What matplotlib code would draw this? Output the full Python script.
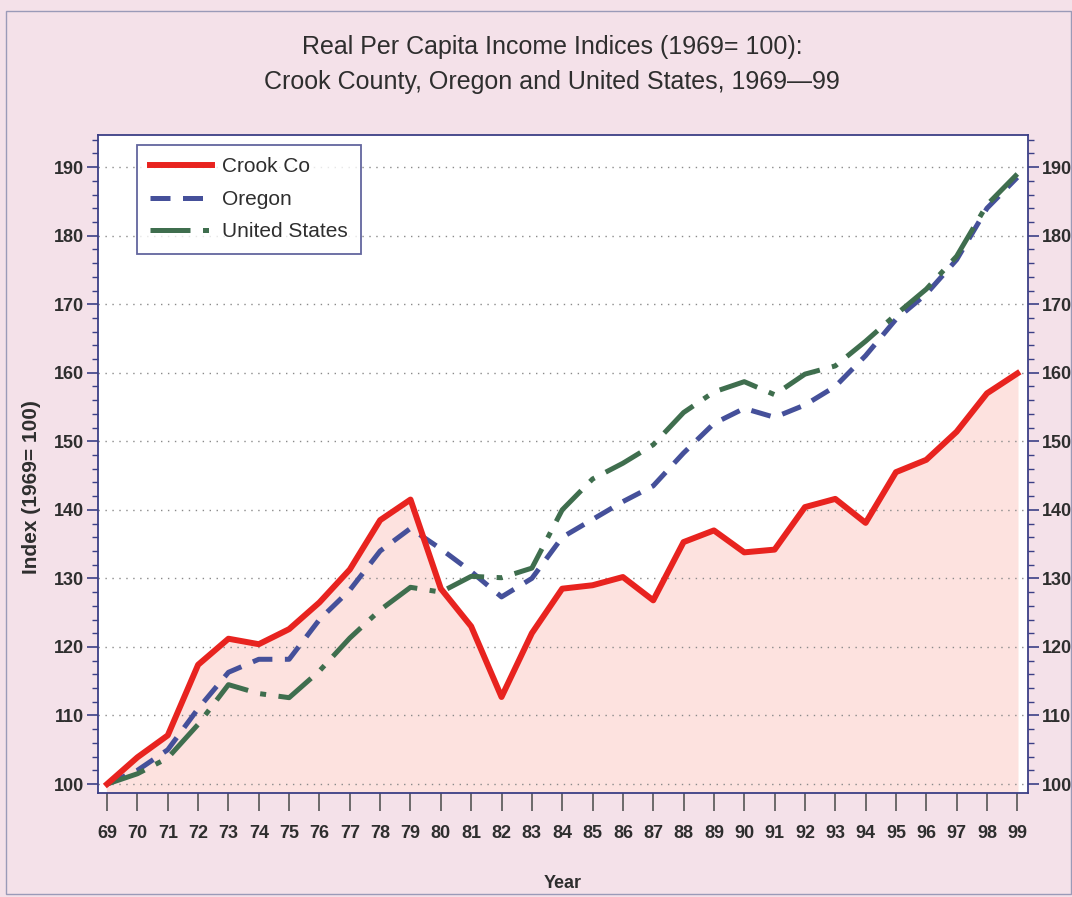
import matplotlib
matplotlib.use("Agg")
import matplotlib.pyplot as plt
from matplotlib.ticker import MultipleLocator
from matplotlib.patches import Rectangle

# Data (index, 1969 = 100)
years = list(range(69, 100))
crook = [100, 103.9, 107.1, 117.4, 121.2, 120.4, 122.6, 126.5, 131.3, 138.5,
         141.5, 128.5, 123.0, 112.7, 122.0, 128.5, 129.0, 130.2, 126.8, 135.3,
         137.0, 133.8, 134.2, 140.4, 141.6, 138.1, 145.5, 147.3, 151.4, 157.0,
         159.9]
oregon = [100, 102.0, 105.0, 111.0, 116.3, 118.2, 118.2, 124.0, 128.3, 134.0,
          137.3, 134.3, 131.0, 127.3, 130.0, 136.0, 138.6, 141.2, 143.5, 148.3,
          152.6, 154.8, 153.5, 155.3, 158.0, 162.5, 167.8, 171.5, 176.5, 184.0,
          188.5]
us = [100, 101.5, 103.8, 108.7, 114.5, 113.2, 112.6, 116.5, 121.3, 125.4,
      128.7, 128.0, 130.3, 130.1, 131.5, 140.0, 144.5, 146.8, 149.5, 154.2,
      157.2, 158.7, 156.8, 159.8, 161.0, 164.6, 168.5, 172.2, 177.0, 184.5,
      189.0]
tick_labels = [str(y) for y in years]

bg = "#f4e1e9"
fill_col = "#fde2df"
frame_col = "#3b3f86"
text_col = "#2e2e2e"

plt.rcParams['font.family'] = ['Liberation Sans', 'DejaVu Sans']

fig = plt.figure(figsize=(10.72, 8.97), dpi=100, facecolor=bg)
ax = fig.add_axes([0.0914, 0.116, 0.8675, 0.7336])
ax.set_facecolor("white")

ax.set_xlim(68.7, 99.35)
ax.set_ylim(98.7, 194.7)

# pink area under Crook Co
ax.fill_between(years, crook, 98.7, color=fill_col, zorder=1)

ax.yaxis.grid(True, linestyle=(0, (1, 4)), color="#8a8a8a", linewidth=1.0, zorder=0)

ax.plot(years, crook, color="#e8231f", linewidth=4.3, solid_joinstyle="round",
        label="Crook Co", zorder=4)
ax.plot(years, oregon, color="#45509a", linewidth=3.6, dashes=(4, 2.5),
        label="Oregon", zorder=3)
ax.plot(years, us, color="#3f6e4e", linewidth=3.6, dashes=(8, 2.5, 1.2, 2.5),
        label="United States", zorder=3)

ax.set_xticks(years)
ax.set_xticklabels(tick_labels)
ax.yaxis.set_major_locator(MultipleLocator(10))
ax.yaxis.set_minor_locator(MultipleLocator(2))
ax.set_yticks(range(100, 191, 10))
ax.tick_params(axis="y", which="both", left=True, right=True,
               labelleft=True, labelright=True, colors=frame_col,
               labelcolor=text_col, labelsize=13, direction="out")
ax.tick_params(axis="y", which="major", length=8, width=1.2, pad=2)
ax.tick_params(axis="y", which="minor", length=4, width=1.0)
ax.tick_params(axis="x", which="major", length=13, width=1.2, colors="#555555",
               labelcolor=text_col, labelsize=13, pad=10)
for lab in ax.get_xticklabels():
    lab.set_fontweight("bold")
for t in ax.yaxis.get_major_ticks():
    t.label1.set_fontweight("bold")
    t.label2.set_fontweight("bold")

for s in ax.spines.values():
    s.set_color(frame_col)
    s.set_linewidth(1.3)

ax.set_xlabel("Year", fontsize=13, fontweight="bold", color=text_col, labelpad=24)
ax.set_ylabel("Index (1969= 100)", fontsize=15, fontweight="bold", color=text_col)
ax.yaxis.set_label_coords(-0.061, 0.465)

leg = ax.legend(loc="upper left", bbox_to_anchor=(0.042, 0.985),
                frameon=True, fancybox=False, handlelength=3.0,
                handletextpad=0.5, borderpad=0.6, labelspacing=0.65,
                borderaxespad=0, prop={'size': 15})
leg.get_frame().set_edgecolor(frame_col)
leg.get_frame().set_linewidth(1.3)
for t in leg.get_texts():
    t.set_color(text_col)

fig.text(0.515, 0.948, "Real Per Capita Income Indices (1969= 100):",
         ha="center", va="center", fontsize=18, color=text_col)
fig.text(0.515, 0.909, "Crook County, Oregon and United States, 1969\u201499",
         ha="center", va="center", fontsize=18, color=text_col)

fig.patches.append(Rectangle((0.006, 0.003), 0.993, 0.985, transform=fig.transFigure,
                             fill=False, edgecolor="#9a9ab8", linewidth=1.0))

fig.savefig("out.png", dpi=100, facecolor=bg)
